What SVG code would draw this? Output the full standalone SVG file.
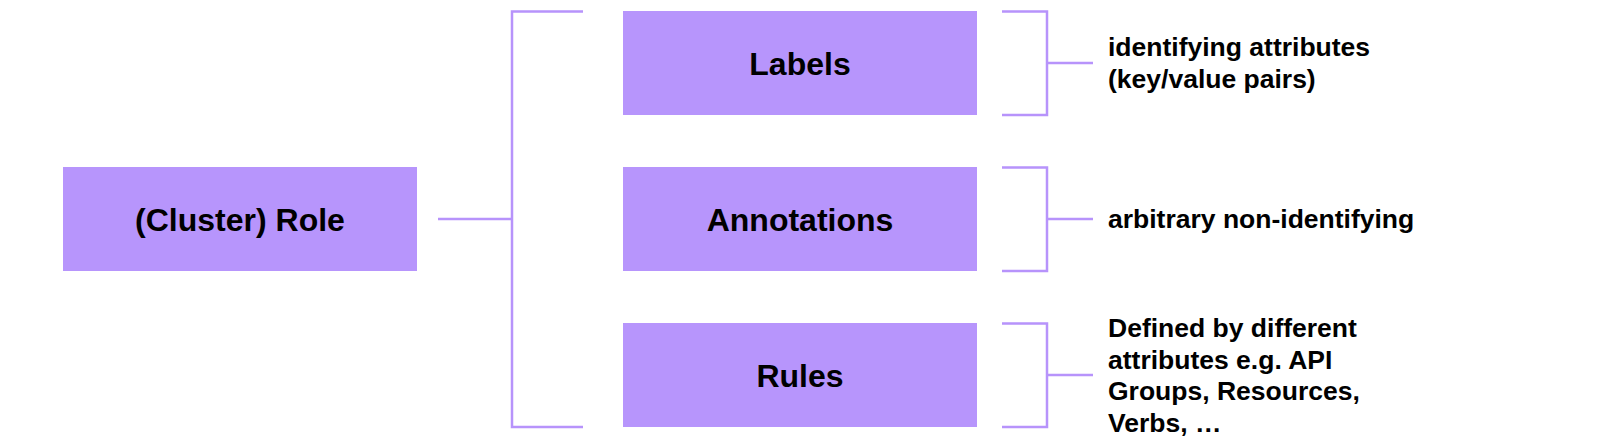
<svg xmlns="http://www.w3.org/2000/svg" width="1600" height="446" viewBox="0 0 1600 446">
<style>
.box{fill:#B795FC;}
.ln{fill:none;stroke:#B793FB;stroke-width:2.5;}
.t{font-family:"Liberation Sans",Arial,sans-serif;font-weight:bold;fill:#000;}
.big{font-size:32px;text-anchor:middle;}
.small{font-size:26.5px;}
</style>
<rect width="1600" height="446" fill="#fff"/>
<g id="connectors">
<path class="ln" d="M438,219 H512"/>
<path class="ln" d="M583,11.5 H512 V427 H583"/>
<path class="ln" d="M1002,11.5 H1047 V115 H1002 M1047,63 H1093"/>
<path class="ln" d="M1002,167.5 H1047 V271 H1002 M1047,219 H1093"/>
<path class="ln" d="M1002,323.5 H1047 V427 H1002 M1047,375 H1093"/>
</g>
<g id="node-role">
<rect class="box" x="63" y="167" width="354" height="104"/>
<text class="t big" x="240" y="230.5">(Cluster) Role</text>
</g>
<g id="node-labels">
<rect class="box" x="623" y="11" width="354" height="104"/>
<text class="t big" x="800" y="74.5">Labels</text>
</g>
<g id="node-annotations">
<rect class="box" x="623" y="167" width="354" height="104"/>
<text class="t big" x="800" y="230.5">Annotations</text>
</g>
<g id="node-rules">
<rect class="box" x="623" y="323" width="354" height="104"/>
<text class="t big" x="800" y="386.5">Rules</text>
</g>
<g id="desc-labels">
<text class="t small" x="1108" y="56">identifying attributes</text>
<text class="t small" x="1108" y="88">(key/value pairs)</text>
</g>
<g id="desc-annotations">
<text class="t small" x="1108" y="227.5">arbitrary non-identifying</text>
</g>
<g id="desc-rules">
<text class="t small" x="1108" y="337">Defined by different</text>
<text class="t small" x="1108" y="368.5">attributes e.g. API</text>
<text class="t small" x="1108" y="400">Groups, Resources,</text>
<text class="t small" x="1108" y="431.5">Verbs, …</text>
</g>
</svg>
